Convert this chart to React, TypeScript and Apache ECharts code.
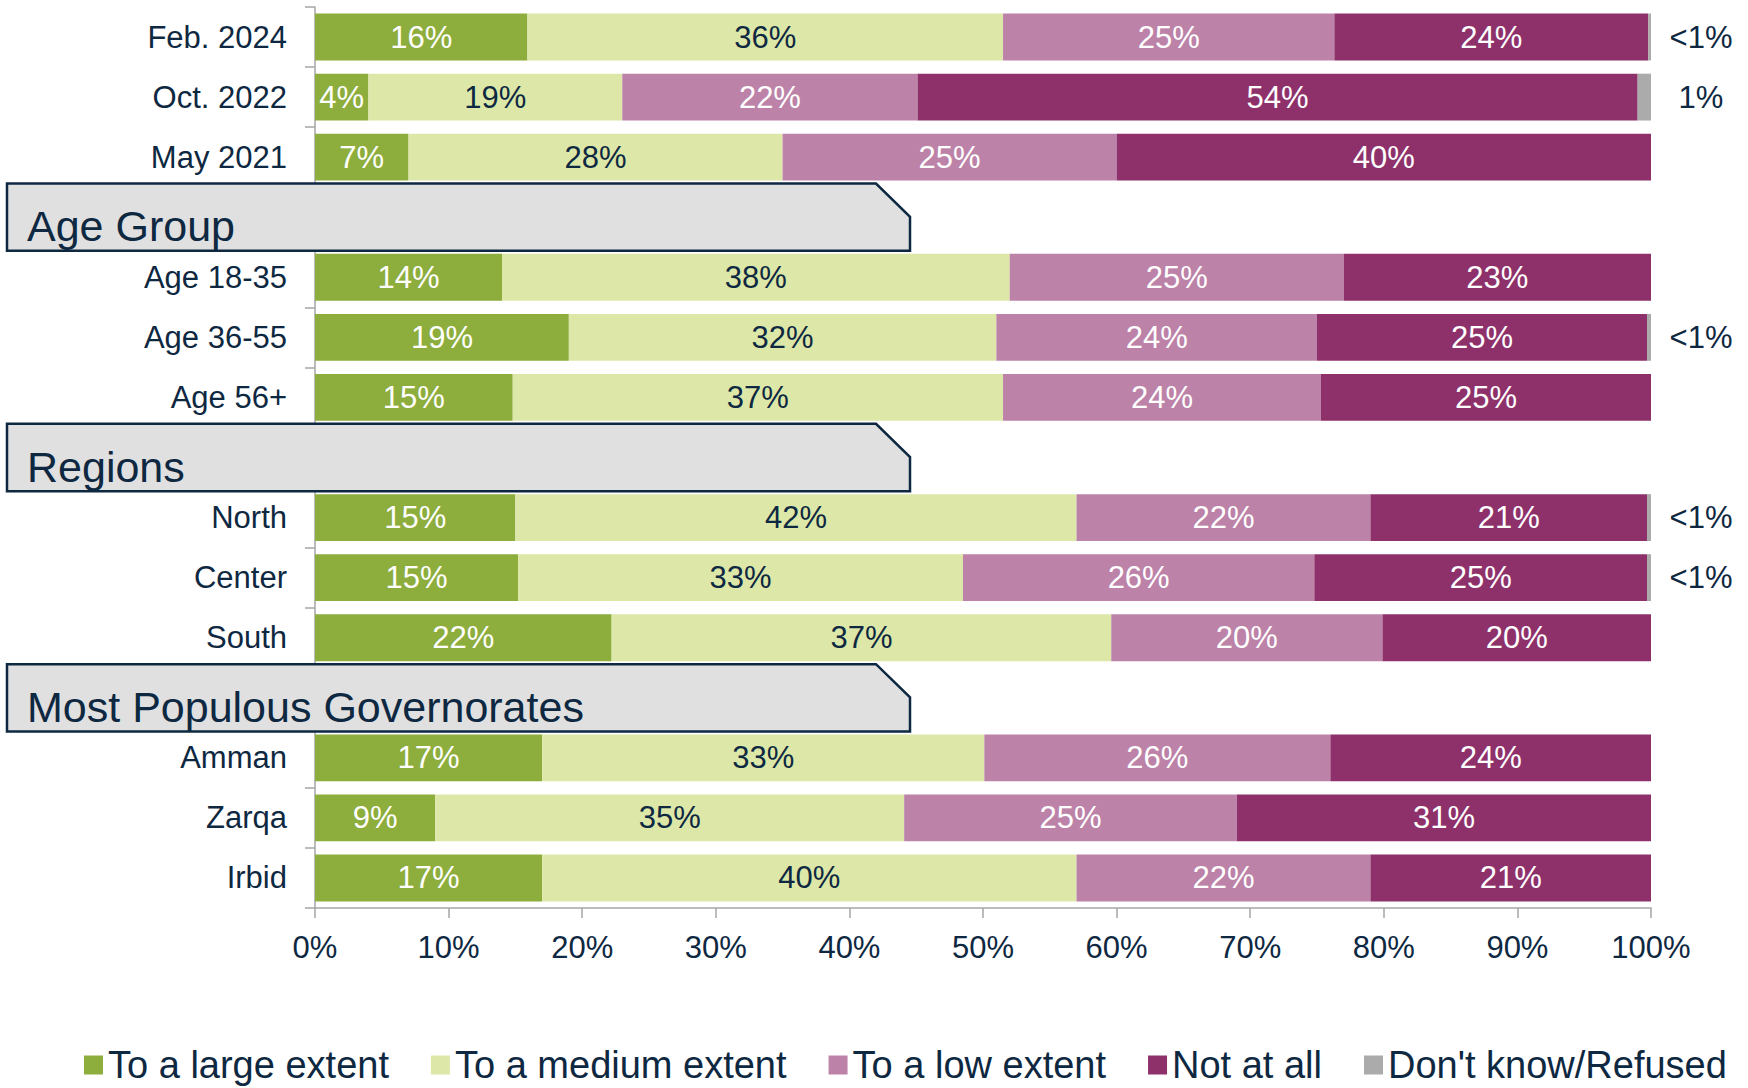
import React, { useEffect, useRef } from 'react';
import * as echarts from 'echarts';

// ---- Data ----
const categories = [
  'Feb. 2024', 'Oct. 2022', 'May 2021',
  'Age Group',
  'Age 18-35', 'Age 36-55', 'Age 56+',
  'Regions',
  'North', 'Center', 'South',
  'Most Populous Governorates',
  'Amman', 'Zarqa', 'Irbid',
];
const headerRows = ['Age Group', 'Regions', 'Most Populous Governorates'];

const seriesNames = ['To a large extent', 'To a medium extent', 'To a low extent', 'Not at all', "Don't know/Refused"];

const largeExtent: (number | string)[] = [15.9, 4.0, 7.0, '-', 14.0, 19.0, 14.8, '-', 15.0, 15.2, 22.2, '-', 17.0, 9.0, 17.0];
const mediumExtent: (number | string)[] = [35.6, 19.0, 28.0, '-', 38.0, 32.0, 36.7, '-', 42.0, 33.3, 37.4, '-', 33.1, 35.1, 40.0];
const lowExtent: (number | string)[] = [24.8, 22.1, 25.0, '-', 25.0, 24.0, 23.8, '-', 22.0, 26.3, 20.3, '-', 25.9, 24.9, 22.0];
const notAtAll: (number | string)[] = [23.5, 53.9, 40.0, '-', 23.0, 24.7, 24.7, '-', 20.7, 24.9, 20.1, '-', 24.0, 31.0, 21.0];
const dontKnow: (number | string)[] = [0.2, 1.0, 0, '-', 0, 0.3, 0, '-', 0.3, 0.3, 0, '-', 0, 0, 0];

const xTicks = [0, 10, 20, 30, 40, 50, 60, 70, 80, 90, 100];

// ---- Style ----
const NAVY = '#0E2841';
const GREY_AXIS = '#A6A6A6';
const FONT = 'Liberation Sans, Arial, sans-serif';
const colors = ['#8DAD3D', '#DDE8A8', '#BC82A8', '#8E316B', '#ABABAB'];
const labelColors = ['#FFFFFF', NAVY, '#FFFFFF', '#FFFFFF', NAVY];

export default function App() {
  const ref = useRef<HTMLDivElement>(null);

  useEffect(() => {
    document.body.style.margin = '0';
    if (!ref.current) return;
    const chart = echarts.init(ref.current, null, { renderer: 'svg' });

    const values = [largeExtent, mediumExtent, lowExtent, notAtAll, dontKnow];

    const series: any[] = values.map((data, i) => {
      const isDK = i === 4;
      return {
        name: seriesNames[i],
        type: 'bar',
        stack: 'total',
        barWidth: '78%',
        data,
        itemStyle: { color: colors[i] },
        label: isDK
          ? {
              show: true,
              position: 'right',
              distance: 50,
              align: 'center',
              color: NAVY,
              fontSize: 31,
              fontFamily: FONT,
              formatter: (p: any) => {
                const v = Number(p.value);
                if (!(v > 0)) return '';
                return v < 0.5 ? '<1%' : Math.round(v) + '%';
              },
            }
          : {
              show: true,
              position: 'inside',
              color: labelColors[i],
              fontSize: 31,
              fontFamily: FONT,
              formatter: (p: any) => Math.round(Number(p.value)) + '%',
            },
      };
    });

    chart.setOption({
      animation: false,
      color: colors,
      textStyle: { fontFamily: FONT },
      grid: { left: 315, right: 97, top: 7, height: 901 },
      xAxis: {
        type: 'value',
        min: xTicks[0],
        max: xTicks[xTicks.length - 1],
        interval: 10,
        splitLine: { show: false },
        axisLine: { show: true, lineStyle: { color: GREY_AXIS, width: 1.5 } },
        axisTick: { show: true, length: 10, lineStyle: { color: GREY_AXIS, width: 1.5 } },
        axisLabel: {
          margin: 24,
          color: NAVY,
          fontSize: 31,
          fontFamily: FONT,
          formatter: (v: number) => v + '%',
        },
      },
      yAxis: {
        type: 'category',
        inverse: true,
        data: categories,
        axisLine: { show: true, lineStyle: { color: GREY_AXIS, width: 1.5 } },
        axisTick: { show: true, length: 10, lineStyle: { color: GREY_AXIS, width: 1.5 } },
        axisLabel: {
          margin: 28,
          color: NAVY,
          fontSize: 31,
          fontFamily: FONT,
          formatter: (v: string) => (headerRows.includes(v) ? '' : v),
        },
      },
      legend: {
        data: seriesNames,
        left: 79,
        top: 1041,
        itemWidth: 19,
        itemHeight: 19,
        itemGap: 42,
        icon: 'rect',
        textStyle: { color: NAVY, fontSize: 38, fontFamily: FONT },
      },
      series,
    });

    // Section header boxes, positioned from the category axis
    const graphics: any[] = [];
    headerRows.forEach((h) => {
      const idx = categories.indexOf(h);
      const cy = chart.convertToPixel({ yAxisIndex: 0 }, idx) as number;
      const cyNext = chart.convertToPixel({ yAxisIndex: 0 }, idx + 1) as number;
      const band = Math.abs(cyNext - cy);
      const half = band * 0.56;
      const x0 = 7;
      const x1 = 910;
      const cut = 34;
      graphics.push({
        type: 'polygon',
        z: 100,
        shape: {
          points: [
            [x0, cy - half],
            [x1 - cut, cy - half],
            [x1, cy - 0.5],
            [x1, cy + half],
            [x0, cy + half],
          ],
        },
        style: { fill: '#E0E0E0', stroke: NAVY, lineWidth: 2.5 },
      });
      graphics.push({
        type: 'text',
        z: 101,
        x: 27,
        y: cy + 9,
        style: {
          text: h,
          fill: NAVY,
          fontSize: 43,
          fontFamily: FONT,
          verticalAlign: 'middle',
          align: 'left',
        },
      });
    });
    chart.setOption({ graphic: graphics });

    return () => chart.dispose();
  }, []);

  return <div ref={ref} style={{ width: 1748, height: 1088 }} />;
}
